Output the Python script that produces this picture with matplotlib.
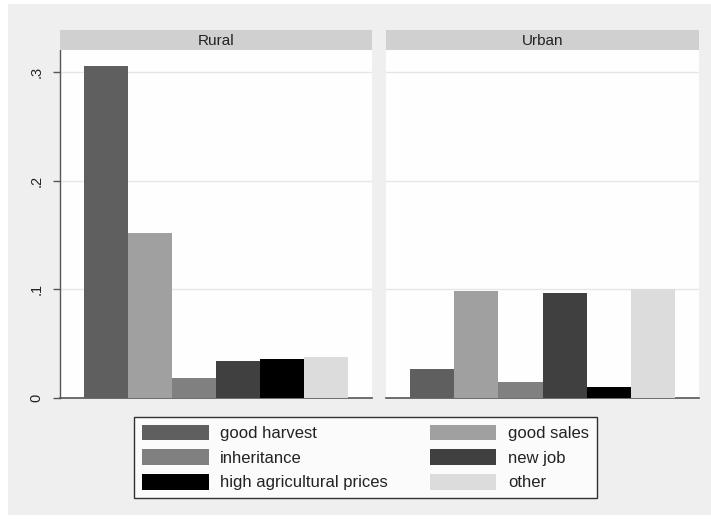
import matplotlib
matplotlib.use("Agg")
import matplotlib.pyplot as plt
from matplotlib.patches import Rectangle, Patch

plt.rcParams['font.family'] = ['Liberation Sans', 'DejaVu Sans']

panels = ["Rural", "Urban"]
categories = ["good harvest", "good sales", "inheritance", "new job",
              "high agricultural prices", "other"]
rural_values = [0.305, 0.152, 0.018, 0.034, 0.036, 0.038]
urban_values = [0.027, 0.098, 0.015, 0.097, 0.010, 0.100]
colors = ["#5f5f5f", "#a0a0a0", "#808080", "#404040", "#000000", "#dcdcdc"]
yticks = [0, 0.1, 0.2, 0.3]
yticklabels = ["0", ".1", ".2", ".3"]

W, H = 711, 519
fig = plt.figure(figsize=(W / 100, H / 100), dpi=100, facecolor="white")

def fx(x):
    return x / W

def fy(y):
    return 1 - y / H

# outer gray background
fig.patches.append(Rectangle((fx(8), fy(515)), fx(711) - fx(8), fy(4) - fy(515),
                             transform=fig.transFigure, facecolor="#efefef",
                             edgecolor="none", zorder=-10))

panel_x = [(60, 372), (386, 699)]
top, bottom = 50, 398
ymax = (bottom - top) / 1087.0

for i, (name, vals) in enumerate(zip(panels, [rural_values, urban_values])):
    x0, x1 = panel_x[i]
    ax = fig.add_axes([fx(x0), fy(bottom), fx(x1) - fx(x0), fy(top) - fy(bottom)])
    ax.set_facecolor("#fefefe")
    xs = list(range(len(categories)))
    ax.bar(xs, vals, width=1.0, color=colors, edgecolor="none", zorder=3)
    m = 0.545
    ax.set_xlim(-0.5 - m, len(categories) - 0.5 + m)
    ax.set_ylim(0, ymax)
    ax.set_yticks(yticks)
    for t in yticks[1:]:
        ax.axhline(t, color="#e6e6e6", lw=1.0, zorder=1)
    ax.set_xticks([])
    for s in ["top", "right"]:
        ax.spines[s].set_visible(False)
    ax.spines["bottom"].set_color("#555555")
    ax.spines["bottom"].set_linewidth(1.2)
    if i == 0:
        ax.spines["left"].set_color("#555555")
        ax.spines["left"].set_linewidth(1.0)
        ax.set_yticklabels(yticklabels, rotation=90, va="center", fontsize=10.5,
                           color="#222222")
        ax.tick_params(axis="y", length=5, width=1, color="#555555", pad=7)
    else:
        ax.spines["left"].set_visible(False)
        ax.tick_params(axis="y", length=0, labelleft=False)
    # strip
    sax = fig.add_axes([fx(x0), fy(50), fx(x1) - fx(x0), fy(30) - fy(50)])
    sax.set_facecolor("#d0d0d0")
    sax.set_xticks([]); sax.set_yticks([])
    for s in sax.spines.values():
        s.set_visible(False)
    sax.text(0.5, 0.45, name, ha="center", va="center", fontsize=11,
             color="#222222", transform=sax.transAxes)

order = [0, 2, 4, 1, 3, 5]
handles = [Patch(facecolor=colors[k], edgecolor="none", label=categories[k]) for k in order]
leg = fig.legend(handles=handles, ncol=2, loc="center",
                 bbox_to_anchor=(fx((129 + 602) / 2), fy((417 + 498) / 2)),
                 frameon=True, fontsize=12, handlelength=4.0, handleheight=1.05,
                 handletextpad=0.7, columnspacing=2.5, labelspacing=0.5,
                 borderpad=0.45, borderaxespad=0, fancybox=False)
leg.get_frame().set_edgecolor("black")
leg.get_frame().set_linewidth(1.0)
leg.get_frame().set_facecolor("white")
for t in leg.get_texts():
    t.set_color("#222222")

fig.savefig("out.png", dpi=100, facecolor=fig.get_facecolor())
